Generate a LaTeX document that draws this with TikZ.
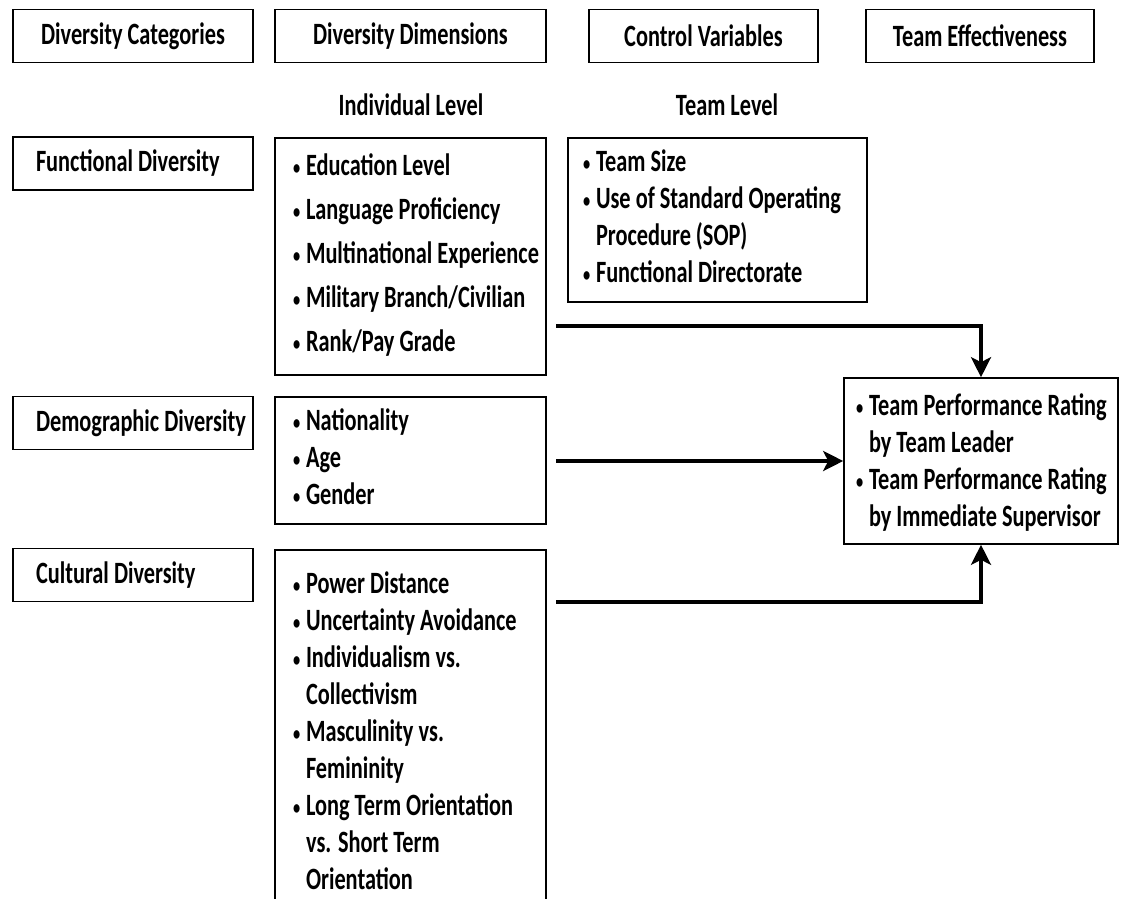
\documentclass[tikz,border=0pt]{standalone}
\usepackage{fontspec}
\setmainfont{Carlito}[FakeStretch=0.72]
\usetikzlibrary{arrows.meta}
\newcommand{\bulit}{\makebox[13pt][l]{\raisebox{1pt}{\fontsize{20}{20}\selectfont\textbullet}}}
\newcommand{\contd}{\hspace*{13pt}}

\begin{document}
\begin{tikzpicture}[x=1pt, y=-1pt,
  font=\fontsize{31}{37}\selectfont\bfseries,
  head/.style={draw, line width=1.6pt, minimum height=53pt, minimum width=#1, inner sep=0pt},
  cat/.style={draw, line width=1.6pt, minimum height=53pt, text width=194pt, align=left, inner xsep=23pt, inner ysep=0pt,
    execute at begin node={\spaceskip=0pt\xspaceskip=0pt}},
  list/.style={draw, line width=1.6pt, text width=#1, align=left, inner xsep=18pt,
    execute at begin node={\spaceskip=0pt\xspaceskip=0pt}},
  arr/.style={line width=4.5pt, -{Stealth[length=20pt, width=20pt, inset=5pt]}}]

  \useasboundingbox (0,0) rectangle (1122,899);
  \clip (0,0) rectangle (1122,899);

  % headings
  \node[head=240pt] (hcat) at (133,36) {Diversity Categories};
  \node[head=271pt] (hdim) at (410.5,36) {Diversity Dimensions};
  \node[head=229pt] (hctl) at (703.5,36) {Control Variables};
  \node[head=228pt] (heff) at (980,36) {Team Effectiveness};
  \node (lind) at (411,105) {Individual Level};
  \node (lteam) at (727,105) {Team Level};

  % categories
  \node[cat] (fun) at (133,163.5) {\mbox{Functional Diversity}};
  \node[cat] (dem) at (133,423) {\mbox{Demographic Diversity}};
  \node[cat] (cul) at (133,575) {\mbox{Cultural Diversity}};

  % dimensions
  \node[list=235pt, minimum height=237pt] (dimA) at (410.5,256.5)
    {\begin{tabular}{@{}l@{}}
     \bulit Education Level\\[7pt] \bulit Language Proficiency\\[7pt]
     \bulit Multinational Experience\\[7pt] \bulit Military Branch/Civilian\\[7pt]
     \bulit Rank/Pay Grade
     \end{tabular}};
  \node[list=235pt, minimum height=127pt] (dimB) at (410.5,460.5)
    {\begin{tabular}{@{}l@{}}
     \bulit Nationality\\ \bulit Age\\ \bulit Gender
     \end{tabular}};
  \node[list=235pt, anchor=north, inner ysep=18pt] (dimC) at (410.5,549)
    {\begin{tabular}{@{}l@{}}
     \bulit Power Distance\\ \bulit Uncertainty Avoidance\\
     \bulit Individualism vs.\\ \contd Collectivism\\
     \bulit Masculinity vs.\\ \contd Femininity\\
     \bulit Long Term Orientation\\ \contd vs. Short Term\\ \contd Orientation
     \end{tabular}};

  % control variables and outcome
  \node[list=269pt, minimum height=164pt, inner xsep=15pt] (ctrl) at (717.5,220)
    {\begin{tabular}{@{}l@{}}
     \bulit Team Size\\ \bulit Use of Standard Operating\\
     \contd Procedure (SOP)\\ \bulit Functional Directorate
     \end{tabular}};
  \node[list=250pt, minimum height=166pt, inner xsep=12pt] (outc) at (981,461)
    {\begin{tabular}{@{}l@{}}
     \rule{0pt}{32pt}\bulit Team Performance Rating\\ \contd by Team Leader\\
     \bulit Team Performance Rating\\ \contd by Immediate Supervisor
     \end{tabular}};

  \coordinate (sA) at (556,326);
  \coordinate (sB) at (556,461);
  \coordinate (sC) at (556,602);
  \draw[arr] (sA) -| (outc.north);
  \draw[arr] (sB) -- (outc.west);
  \draw[arr] (sC) -| (outc.south);
\end{tikzpicture}
\end{document}
